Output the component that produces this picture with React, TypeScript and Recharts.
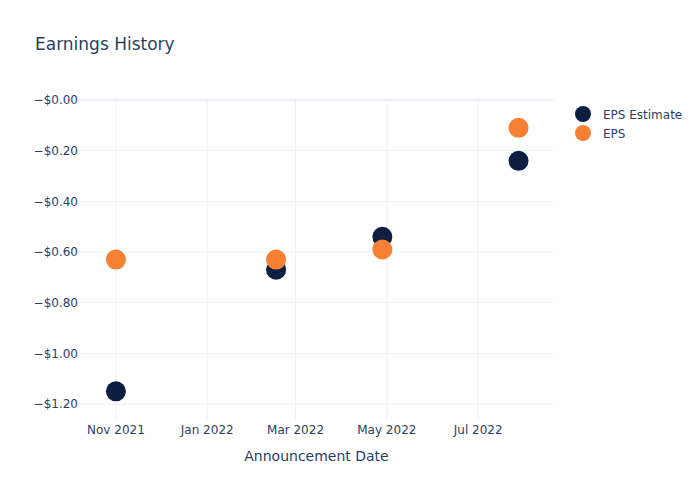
import React from 'react';
import { ScatterChart, Scatter, XAxis, YAxis, ReferenceLine } from 'recharts';

const announcementDates = ['2021-11-01', '2022-02-16', '2022-04-28', '2022-07-28'];
const epsEstimate = [-1.15, -0.67, -0.54, -0.24];
const epsActual = [-0.63, -0.63, -0.59, -0.11];
const xTickDates = ['2021-11-01', '2022-01-01', '2022-03-01', '2022-05-01', '2022-07-01'];
const xDomainDates = ['2021-10-08', '2022-08-20'];
const yTicks = [0, -0.2, -0.4, -0.6, -0.8, -1.0, -1.2];
const yDomain = [-1.263, 0];

const MONTHS = ['Jan', 'Feb', 'Mar', 'Apr', 'May', 'Jun', 'Jul', 'Aug', 'Sep', 'Oct', 'Nov', 'Dec'];
const TEXT = '#2a3f5f';
const GRID = '#ebf0f8';
const NAVY = '#0c1f40';
const ORANGE = '#f68135';
const FONT = '"DejaVu Sans", Verdana, sans-serif';

const estimateData = announcementDates.map((d, i) => ({ x: Date.parse(d), y: epsEstimate[i] }));
const epsData = announcementDates.map((d, i) => ({ x: Date.parse(d), y: epsActual[i] }));
const xTickValues = xTickDates.map((d) => Date.parse(d));

const fmtDate = (v: number) => {
  const d = new Date(v);
  return `${MONTHS[d.getUTCMonth()]} ${d.getUTCFullYear()}`;
};
const fmtMoney = (v: number) => `\u2212$${Math.abs(v).toFixed(2)}`;

const dot = (color: string) => (props: any) => (
  <circle cx={props.cx} cy={props.cy} r={10} fill={color} />
);

export default function App() {
  return (
    <div style={{ position: 'absolute', left: 0, top: 0, width: 700, height: 500, background: '#fff', fontFamily: FONT }}>
      <ScatterChart width={700} height={500} margin={{ top: 100, right: 147, bottom: 30, left: 0 }}>
        <XAxis
          type="number"
          dataKey="x"
          domain={xDomainDates.map((d) => Date.parse(d))}
          ticks={xTickValues}
          tickFormatter={fmtDate}
          allowDataOverflow
          axisLine={false}
          tickLine={false}
          tickSize={0}
          tickMargin={5}
          height={50}
          tick={{ fill: TEXT, fontSize: 12, fontFamily: FONT }}
        />
        <YAxis
          type="number"
          dataKey="y"
          domain={yDomain}
          ticks={yTicks}
          tickFormatter={fmtMoney}
          allowDataOverflow
          axisLine={false}
          tickLine={false}
          tickSize={0}
          tickMargin={2}
          width={80}
          tick={{ fill: TEXT, fontSize: 12, fontFamily: FONT }}
        />
        {xTickValues.map((t) => (
          <ReferenceLine key={`vx${t}`} x={t} stroke={GRID} strokeWidth={1} />
        ))}
        {yTicks.map((t) => (
          <ReferenceLine key={`hy${t}`} y={t} stroke={GRID} strokeWidth={t === 0 ? 2 : 1} />
        ))}
        <Scatter name="EPS Estimate" data={estimateData} fill={NAVY} shape={dot(NAVY)} isAnimationActive={false} />
        <Scatter name="EPS" data={epsData} fill={ORANGE} shape={dot(ORANGE)} isAnimationActive={false} />
      </ScatterChart>
      <svg width={700} height={500} style={{ position: 'absolute', left: 0, top: 0, pointerEvents: 'none' }}>
        <text x={35} y={50} fontSize={17} fill={TEXT} fontFamily={FONT}>Earnings History</text>
        <text x={316.5} y={461} fontSize={14} fill={TEXT} fontFamily={FONT} textAnchor="middle">Announcement Date</text>
        <circle cx={583} cy={114} r={8} fill={NAVY} />
        <text x={603} y={118.5} fontSize={12} fill={TEXT} fontFamily={FONT}>EPS Estimate</text>
        <circle cx={583} cy={133} r={8} fill={ORANGE} />
        <text x={603} y={137.5} fontSize={12} fill={TEXT} fontFamily={FONT}>EPS</text>
      </svg>
    </div>
  );
}
